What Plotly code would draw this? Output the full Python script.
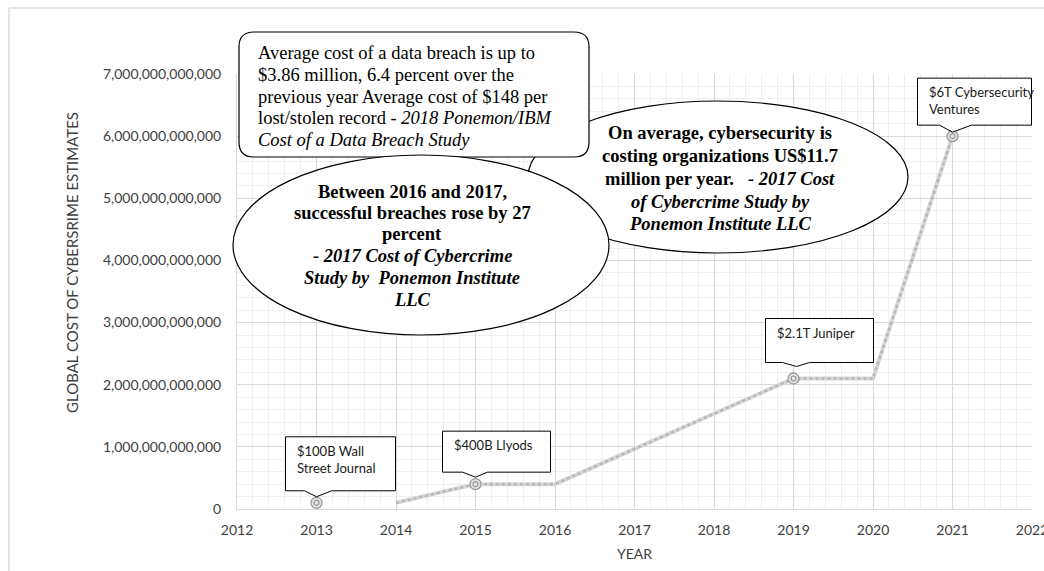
import plotly.graph_objects as go

# ---------------- data ----------------
line_years = [2014, 2015, 2016, 2019, 2020, 2021]
line_values = [0.1e12, 0.4e12, 0.4e12, 2.1e12, 2.1e12, 6.0e12]

point_years = [2013, 2015, 2019, 2021]
point_values = [0.1e12, 0.4e12, 2.1e12, 6.0e12]
point_labels = [["$100B Wall", "Street Journal"], ["$400B Llyods"], ["$2.1T Juniper"],
                ["$6T Cybersecurity", "Ventures"]]

x_ticks = list(range(2012, 2023))
x_range = [2012, 2022]
y_range = [0, 7e12]

# ---------------- geometry helpers ----------------
W, H = 1044, 571
L, R, T, B = 237, 1032, 74, 509
PW, PH = R - L, B - T


def P(px, py):
    return (px - L) / PW, (B - py) / PH


def data_px(x, y):
    px = L + (x - x_range[0]) / (x_range[1] - x_range[0]) * PW
    py = B - (y - y_range[0]) / (y_range[1] - y_range[0]) * PH
    return px, py


fig = go.Figure()

fig.add_trace(go.Scatter(x=line_years, y=line_values, mode="lines",
                         line=dict(color="#d6d6d6", width=4), hoverinfo="skip", showlegend=False))
fig.add_trace(go.Scatter(x=line_years, y=line_values, mode="lines",
                         line=dict(color="#b8b8b8", width=2.5, dash="dot"), hoverinfo="skip", showlegend=False))
fig.add_trace(go.Scatter(x=point_years, y=point_values, mode="markers",
                         marker=dict(symbol="circle", size=11, color="#e4e4e4",
                                     line=dict(color="#9a9a9a", width=1.3)),
                         hoverinfo="skip", showlegend=False))
fig.add_trace(go.Scatter(x=point_years, y=point_values, mode="markers",
                         marker=dict(symbol="circle-open", size=5, color="#9a9a9a",
                                     line=dict(color="#9a9a9a", width=1.2)),
                         hoverinfo="skip", showlegend=False))

shapes = []
annotations = []

# outer chart border
bx0, by0 = P(9, 8)
bx1, by1 = P(1080, 620)
shapes.append(dict(type="rect", xref="paper", yref="paper", x0=bx0, y0=by1, x1=bx1, y1=by0,
                   line=dict(color="#c8c8c8", width=1), layer="below"))

# data callouts: (box left, right, top, bottom offsets), notch (left, right), tip dy, tip dx
callout_geom = [
    ((-31, 79, -66, -12), (-12, 15), -6, 0),
    ((-33, 75, -53, -12), (-13, 12), -7, 0),
    ((-28, 80, -60, -16), (-11, 16), -12, 3),
    ((-35, 79, -58, -11), (-13, 19), -4, 0),
]


def path_from(points):
    s = ""
    for i, (px, py) in enumerate(points):
        x, y = P(px, py)
        s += ("M" if i == 0 else "L") + f"{x:.5f},{y:.5f} "
    return s + "Z"


for (yr, val, lab, g) in zip(point_years, point_values, point_labels, callout_geom):
    cx, cy = data_px(yr, val)
    (l, r, t, b), (nl, nr), tdy, tdx = g
    pts = [(cx + l, cy + t), (cx + r, cy + t), (cx + r, cy + b), (cx + nr, cy + b),
           (cx + tdx, cy + tdy), (cx + nl, cy + b), (cx + l, cy + b)]
    shapes.append(dict(type="path", xref="paper", yref="paper", path=path_from(pts),
                       fillcolor="white", line=dict(color="black", width=1), layer="above"))
    for i, txt in enumerate(lab):
        ax, ay = P(cx + l + 9, cy + t + 14 + 17 * i)
        annotations.append(dict(xref="paper", yref="paper", x=ax, y=ay, xanchor="left", yanchor="middle",
                                text=txt, showarrow=False, align="left",
                                font=dict(family="Lato", size=13, color="#1a1a1a")))

# ellipse 2 (behind)
e2 = (718, 177, 190, 76)
x0, y0 = P(e2[0] - e2[2], e2[1] - e2[3])
x1, y1 = P(e2[0] + e2[2], e2[1] + e2[3])
shapes.append(dict(type="circle", xref="paper", yref="paper", x0=x0, y0=y1, x1=x1, y1=y0,
                   fillcolor="white", line=dict(color="black", width=1.2), layer="above"))

# rounded rectangle
rx0, rx1, ry0, ry1, rr = 239, 589, 32, 157, 15
seq = [("M", (rx0 + rr, ry0)), ("L", (rx1 - rr, ry0)), ("Q", (rx1, ry0), (rx1, ry0 + rr)),
       ("L", (rx1, ry1 - rr)), ("Q", (rx1, ry1), (rx1 - rr, ry1)), ("L", (rx0 + rr, ry1)),
       ("Q", (rx0, ry1), (rx0, ry1 - rr)), ("L", (rx0, ry0 + rr)), ("Q", (rx0, ry0), (rx0 + rr, ry0))]
s = ""
for item in seq:
    coords = " ".join("%.5f,%.5f" % P(*c) for c in item[1:])
    s += f"{item[0]}{coords} "
s += "Z"
shapes.append(dict(type="path", xref="paper", yref="paper", path=s,
                   fillcolor="white", line=dict(color="black", width=1.2), layer="above"))

# ellipse 1 (front)
e1 = (421, 245, 188, 90)
x0, y0 = P(e1[0] - e1[2], e1[1] - e1[3])
x1, y1 = P(e1[0] + e1[2], e1[1] + e1[3])
shapes.append(dict(type="circle", xref="paper", yref="paper", x0=x0, y0=y1, x1=x1, y1=y0,
                   fillcolor="white", line=dict(color="black", width=1.2), layer="above"))

serif = "Liberation Serif, Times New Roman, serif"
SFS = 18.5


def text_lines(lines, x, ys, anchor):
    for txt, yy in zip(lines, ys):
        ax, ay = P(x, yy)
        annotations.append(dict(xref="paper", yref="paper", x=ax, y=ay, xanchor=anchor,
                                yanchor="middle", showarrow=False, text=txt,
                                font=dict(family=serif, size=SFS, color="black")))


text_lines(["Average cost of a data breach is up to",
            "$3.86 million, 6.4 percent over the",
            "previous year Average cost of $148 per",
            "lost/stolen record - <i>2018 Ponemon/IBM</i>",
            "<i>Cost of a Data Breach Study</i>"],
           256, [53, 75, 97, 118, 140], "left")

text_lines(["<b>Between 2016 and 2017,</b>",
            "<b>successful breaches rose by 27</b>",
            "<b>percent</b>",
            "<b><i>- 2017 Cost of Cybercrime</i></b>",
            "<b><i>Study by&nbsp; Ponemon Institute</i></b>",
            "<b><i>LLC</i></b>"],
           412, [192, 213, 234, 256, 278, 300], "center")

text_lines(["<b>On average, cybersecurity is</b>",
            "<b>costing organizations US$11.7</b>",
            "<b>million per year.&nbsp;&nbsp; <i>- 2017 Cost</i></b>",
            "<b><i>of Cybercrime Study by</i></b>",
            "<b><i>Ponemon Institute LLC</i></b>"],
           720, [133, 156, 179, 202, 224], "center")

# axis titles
ax, ay = P(72, 263)
annotations.append(dict(xref="paper", yref="paper", x=ax, y=ay, xanchor="center", yanchor="middle",
                        textangle=-90, showarrow=False, text="GLOBAL COST OF CYBERSRIME ESTIMATES",
                        font=dict(family="Lato", size=15, color="#404040")))
ax, ay = P(634, 553)
annotations.append(dict(xref="paper", yref="paper", x=ax, y=ay, xanchor="center", yanchor="middle",
                        showarrow=False, text="YEAR",
                        font=dict(family="Lato", size=14, color="#404040")))

fig.update_layout(
    width=W, height=H,
    margin=dict(l=L, r=W - R, t=T, b=H - B, autoexpand=False),
    paper_bgcolor="white", plot_bgcolor="white",
    shapes=shapes, annotations=annotations,
    showlegend=False,
    font=dict(family="Lato", size=14, color="#404040"),
    xaxis=dict(range=x_range, tickvals=x_ticks, showgrid=True, gridcolor="#d9d9d9", gridwidth=1,
               minor=dict(dtick=0.2, tick0=2012, showgrid=True, gridcolor="#efefef", gridwidth=1),
               showline=True, linecolor="#d9d9d9", zeroline=False, ticks="",
               ticklabeloverflow="allow", automargin=False,
               ticklabelstandoff=8, tickfont=dict(family="Lato", size=14, color="#404040"),
               fixedrange=True),
    yaxis=dict(range=y_range, dtick=1e12, showgrid=True, gridcolor="#d9d9d9", gridwidth=1,
               minor=dict(dtick=0.2e12, showgrid=True, gridcolor="#efefef", gridwidth=1),
               showline=True, linecolor="#d9d9d9", zeroline=False, ticks="",
               tickformat=",.0f", ticklabelstandoff=12, automargin=False,
               tickfont=dict(family="Lato", size=14, color="#404040"), fixedrange=True),
)

fig.write_html("out.html")
